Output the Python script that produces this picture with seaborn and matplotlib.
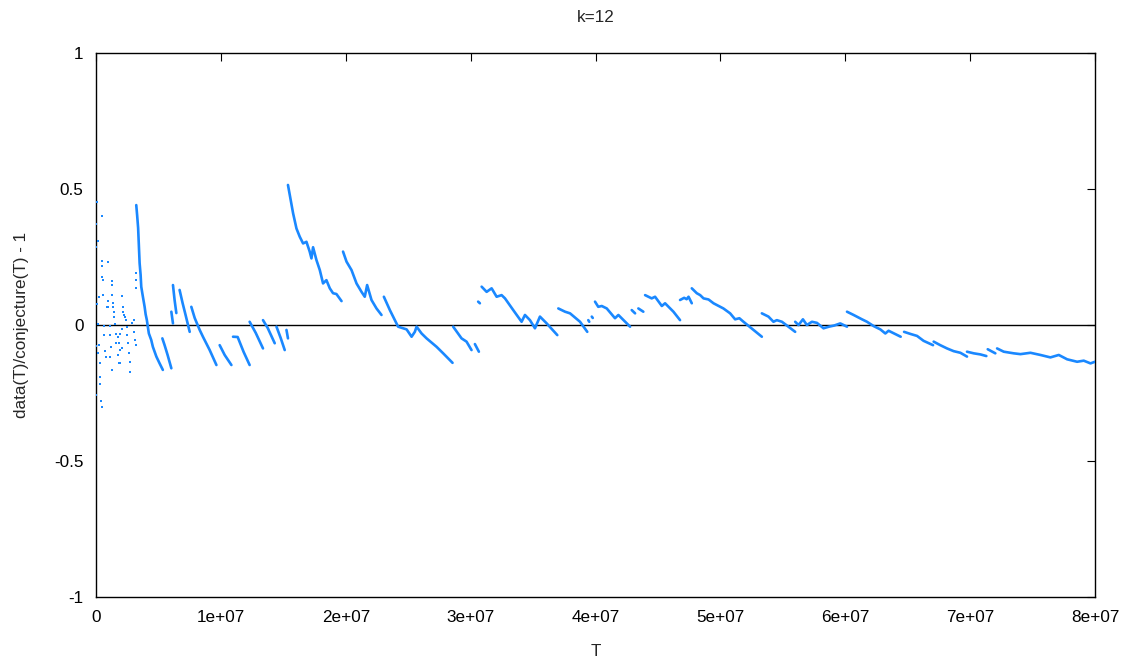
import matplotlib
matplotlib.use("Agg")
import matplotlib.pyplot as plt
import seaborn as sns
import pandas as pd
import numpy as np

# ---- data (T in units of 1e6) ----
dot_T = [0.06, 0.02, 0.18, 0.02, 0.44, 0.44, 0.50, 0.92, 0.50, 0.55, 1.24, 1.24, 0.22, 0.06,
         0.55, 0.98, 0.87, 1.30, 1.35, 2.10, 2.15, 2.26, 1.46, 0.18, 0.66, 1.08, 1.51, 0.66,
         1.14, 1.62, 1.94, 2.04, 0.02, 0.22, 0.71, 1.19, 1.62, 1.94, 0.12, 0.76, 1.14, 1.83,
         0.28, 1.24, 0.34, 0.34, 0.02, 0.38, 0.44,
         2.42, 2.47, 2.47, 2.53, 2.63, 2.69, 2.74, 2.85, 3.01, 3.06, 3.11, 3.17, 3.17, 3.19, 3.22,
         1.72, 1.83, 2.04, 1.78, 1.88, 2.15, 2.31, 1.35, 1.46, 0.98]
dot_v = [0.451, 0.371, 0.309, 0.287, 0.402, 0.235, 0.217, 0.232, 0.176, 0.165, 0.163, 0.147, 0.104, 0.077,
         0.110, 0.089, 0.067, 0.110, 0.082, 0.107, 0.067, 0.037, 0.031, 0.004, -0.004, -0.004, 0.004, -0.037,
         -0.037, -0.033, -0.033, -0.015, -0.077, -0.074, -0.097, -0.080, -0.067, -0.092, -0.103, -0.118, -0.118, -0.140,
         -0.140, -0.165, -0.190, -0.217, -0.257, -0.278, -0.300,
         0.018, -0.006, -0.037, -0.066, -0.103, -0.135, -0.172, 0.006, 0.018, -0.025, -0.055, -0.074, 0.190, 0.165, 0.136,
         -0.043, -0.067, -0.086, -0.110, -0.139, 0.049, 0.028, 0.067, 0.049, 0.067]

segment_T = [
    [3.22, 3.29, 3.37, 3.41, 3.49, 3.57, 3.62, 3.73, 3.89, 3.97, 4.07, 4.15, 4.23, 4.42, 4.55, 4.83, 5.09, 5.35],
    [5.31, 5.49, 5.73, 6.03],
    [6.03, 6.16],
    [6.16, 6.29, 6.43],
    [6.69, 6.93, 7.17, 7.50],
    [7.63, 7.90, 8.30, 8.56, 9.10, 9.64],
    [9.90, 10.30, 10.84],
    [10.97, 11.34, 11.82, 12.30],
    [12.30, 12.79, 13.37],
    [13.37, 13.75, 14.31],
    [14.45, 14.79, 15.11],
    [15.25, 15.37],
    [15.37, 15.78, 16.05, 16.31, 16.58, 16.85, 17.11, 17.25, 17.38, 17.65, 17.92, 18.18, 18.45, 18.72, 18.98, 19.25, 19.66],
    [19.78, 20.06, 20.46, 20.86, 21.26, 21.52, 21.71, 22.06, 22.46, 22.86],
    [23.05, 23.53, 24.19, 24.87, 25.27, 25.53, 25.67, 26.07, 26.47, 27.27, 27.80, 28.55],
    [28.60, 29.27, 29.67, 30.07],
    [30.34, 30.66],
    [30.60, 30.74],
    [30.88, 31.28, 31.68, 32.08, 32.48, 32.75, 33.41, 34.08, 34.35, 34.75, 35.15, 35.55, 36.09, 36.94],
    [37.02, 37.56, 37.96, 38.76, 39.34],
    [39.42, 39.50],
    [39.70, 39.78],
    [39.96, 40.22, 40.50, 40.90, 41.56, 41.83, 42.77],
    [42.90, 43.17],
    [43.43, 43.83],
    [43.97, 44.50, 44.77, 45.31, 45.57, 46.24, 46.77],
    [46.77, 47.10, 47.30, 47.45, 47.71],
    [47.71, 48.11, 48.38, 48.65, 49.05, 49.45, 50.24, 50.78, 51.18, 51.52, 51.85, 53.32],
    [53.32, 53.85, 54.25, 54.52, 54.93, 55.99],
    [55.99, 56.26, 56.61, 56.93, 57.33, 57.73, 58.26, 58.70, 59.10, 59.60, 60.14],
    [60.14, 60.67, 61.34, 61.74, 62.28, 62.81, 63.21, 63.47, 64.44],
    [64.71, 65.24, 65.75, 66.27, 67.03],
    [67.08, 67.61, 68.15, 68.68, 69.22, 69.75],
    [69.75, 70.29, 70.82, 71.30],
    [71.41, 72.02],
    [72.16, 72.69, 73.49, 74.03, 74.83, 75.63, 76.43, 77.10, 77.77, 78.57, 79.10, 79.64, 80.0],
]
segment_v = [
    [0.441, 0.404, 0.357, 0.313, 0.227, 0.184, 0.141, 0.110, 0.067, 0.040, 0.018, -0.007, -0.031, -0.055, -0.080, -0.116, -0.141, -0.165],
    [-0.049, -0.074, -0.110, -0.159],
    [0.049, 0.006],
    [0.147, 0.092, 0.044],
    [0.129, 0.081, 0.037, -0.025],
    [0.067, 0.026, -0.018, -0.043, -0.092, -0.147],
    [-0.074, -0.110, -0.147],
    [-0.043, -0.044, -0.099, -0.147],
    [0.012, -0.029, -0.086],
    [0.018, -0.011, -0.067],
    [-0.006, -0.048, -0.092],
    [-0.018, -0.049],
    [0.515, 0.411, 0.355, 0.325, 0.300, 0.306, 0.270, 0.245, 0.286, 0.239, 0.202, 0.153, 0.165, 0.135, 0.117, 0.114, 0.088],
    [0.270, 0.233, 0.202, 0.153, 0.122, 0.104, 0.147, 0.092, 0.061, 0.037],
    [0.104, 0.055, -0.006, -0.016, -0.043, -0.025, -0.006, -0.031, -0.049, -0.080, -0.104, -0.139],
    [-0.006, -0.049, -0.061, -0.092],
    [-0.070, -0.098],
    [0.086, 0.080],
    [0.141, 0.122, 0.135, 0.104, 0.110, 0.098, 0.055, 0.012, 0.037, 0.018, -0.012, 0.031, 0.006, -0.037],
    [0.061, 0.049, 0.043, 0.012, -0.025],
    [0.018, 0.012],
    [0.031, 0.026],
    [0.086, 0.067, 0.070, 0.061, 0.025, 0.037, -0.006],
    [0.055, 0.043],
    [0.061, 0.049],
    [0.110, 0.098, 0.104, 0.070, 0.080, 0.049, 0.018],
    [0.092, 0.100, 0.095, 0.104, 0.080],
    [0.135, 0.117, 0.110, 0.098, 0.094, 0.080, 0.061, 0.043, 0.021, 0.025, 0.012, -0.043],
    [0.043, 0.031, 0.012, 0.018, 0.012, -0.025],
    [0.012, 0.000, 0.021, 0.000, 0.012, 0.008, -0.012, -0.006, -0.002, 0.006, -0.006],
    [0.049, 0.037, 0.021, 0.012, -0.004, -0.016, -0.031, -0.021, -0.043],
    [-0.025, -0.033, -0.040, -0.058, -0.074],
    [-0.061, -0.074, -0.086, -0.096, -0.102, -0.116],
    [-0.098, -0.104, -0.108, -0.114],
    [-0.089, -0.104],
    [-0.086, -0.098, -0.104, -0.107, -0.102, -0.110, -0.119, -0.110, -0.126, -0.135, -0.131, -0.141, -0.135],
]

x_ticks = [0, 1e7, 2e7, 3e7, 4e7, 5e7, 6e7, 7e7, 8e7]
x_tick_labels = ["0", "1e+07", "2e+07", "3e+07", "4e+07", "5e+07", "6e+07", "7e+07", "8e+07"]
y_ticks = [-1, -0.5, 0, 0.5, 1]
y_tick_labels = ["-1", "-0.5", "0", "0.5", "1"]

# ---- build frames ----
dots = pd.DataFrame({"T": np.array(dot_T) * 1e6, "v": dot_v})
rows = []
for i, (ts, vs) in enumerate(zip(segment_T, segment_v)):
    for t, v in zip(ts, vs):
        rows.append((i, t * 1e6, v))
segs = pd.DataFrame(rows, columns=["seg", "T", "v"])

sns.set_theme(style="white")
plt.rcParams["font.family"] = ["Liberation Sans", "DejaVu Sans"]

color = "#1a88ff"
fs = 12.3
fig = plt.figure(figsize=(11.38, 6.63), dpi=100)
ax = fig.add_axes([0.0844, 0.0995, 0.8778, 0.8205])

ax.axhline(0, color="black", lw=1.0, zorder=1)
sns.lineplot(data=segs, x="T", y="v", units="seg", estimator=None, sort=False,
             color=color, lw=1.9, ax=ax, zorder=3)
sns.scatterplot(data=dots, x="T", y="v", color=color, s=3.5, marker="s",
                linewidth=0, ax=ax, zorder=3)

ax.set_xlim(0, 8e7)
ax.set_ylim(-1, 1)
ax.set_xticks(x_ticks)
ax.set_xticklabels(x_tick_labels)
ax.set_yticks(y_ticks)
ax.set_yticklabels(y_tick_labels)
ax.tick_params(axis="both", direction="in", length=6, width=0.8, labelsize=fs,
               top=True, right=True, pad=9, colors="black")
for sp in ax.spines.values():
    sp.set_color("black")
    sp.set_linewidth(1.0)
ax.set_xlabel("T", fontsize=fs, labelpad=14)
ax.set_ylabel("data(T)/conjecture(T) - 1", fontsize=fs, labelpad=18)
ax.set_title("k=12", fontsize=fs, pad=22)

fig.savefig("out.png", dpi=100)
